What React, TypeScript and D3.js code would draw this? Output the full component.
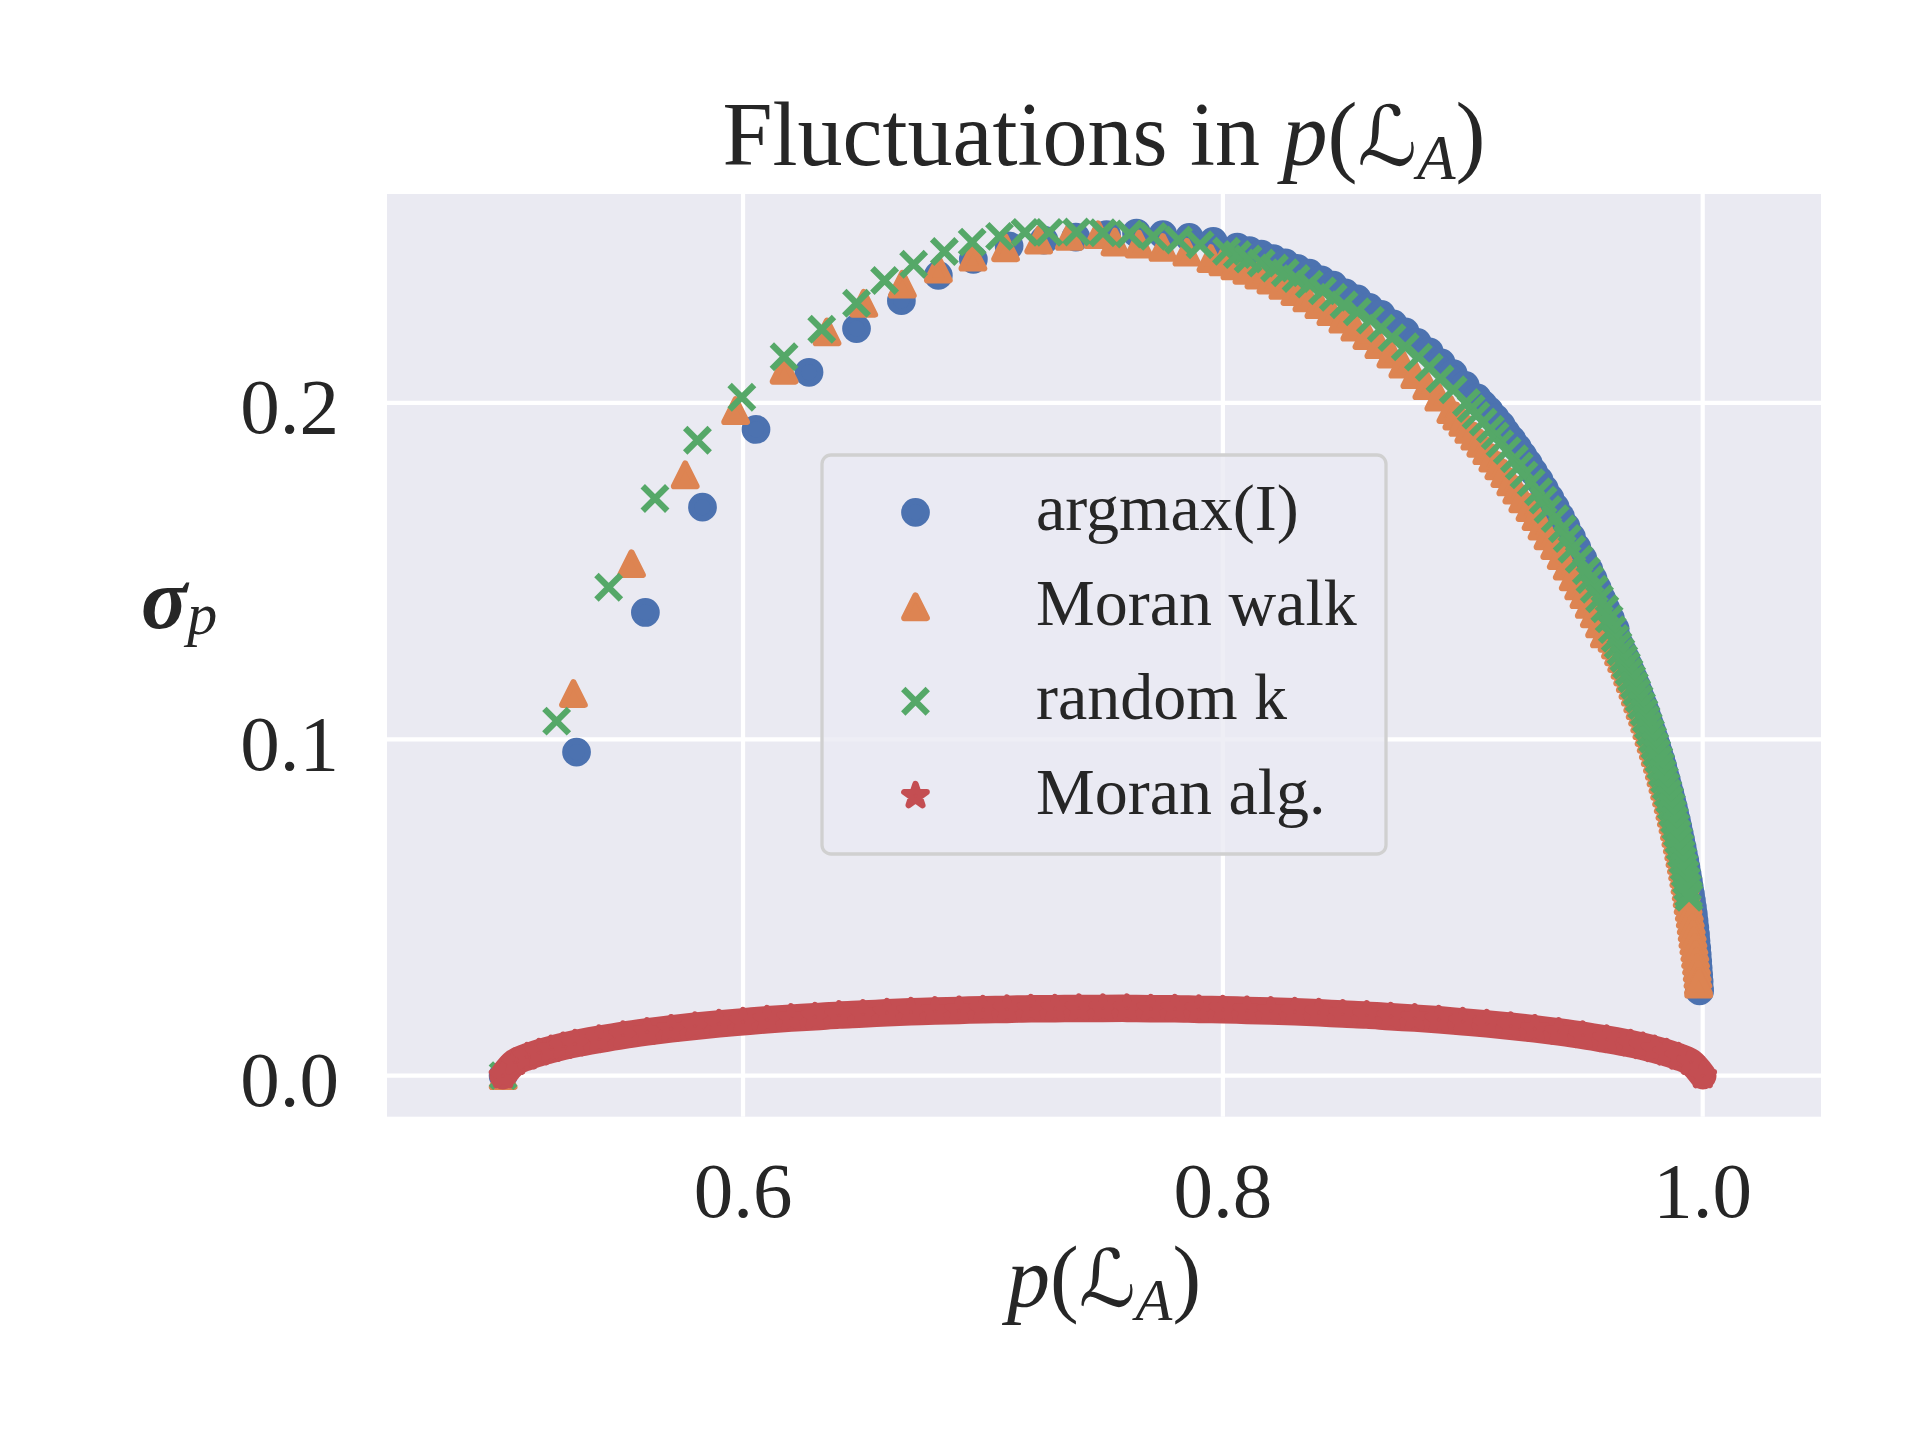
import React, { useRef, useEffect } from 'react';
import * as d3 from 'd3';

type Pt = [number, number];
type D3Svg = d3.Selection<SVGSVGElement, unknown, null, undefined>;

// [p(L_A), sigma_p]
const argmaxI: Pt[] = [
  [0.5, 0], [0.5306, 0.0962], [0.5593, 0.1377], [0.5831, 0.169], [0.6054, 0.1921], [0.6275, 0.2091],
  [0.6473, 0.2221], [0.666, 0.2304], [0.6814, 0.2379], [0.696, 0.2427], [0.7109, 0.2467], [0.7254, 0.2484],
  [0.7387, 0.2493], [0.7515, 0.25], [0.764, 0.2505], [0.775, 0.25], [0.786, 0.2492], [0.796, 0.248],
  [0.806, 0.2463], [0.811, 0.2453], [0.816, 0.2442], [0.821, 0.2429], [0.826, 0.2416], [0.831, 0.24],
  [0.836, 0.2386], [0.841, 0.2366], [0.846, 0.235], [0.851, 0.2327], [0.856, 0.2309], [0.861, 0.2284],
  [0.866, 0.2263], [0.871, 0.2235], [0.876, 0.2211], [0.881, 0.218], [0.886, 0.2152], [0.891, 0.2119],
  [0.896, 0.2087], [0.901, 0.2052], [0.906, 0.2015], [0.9085, 0.1995], [0.911, 0.1976], [0.9135, 0.1955],
  [0.916, 0.1934], [0.918, 0.1912], [0.9205, 0.189], [0.9228, 0.1867], [0.925, 0.1844], [0.9273, 0.182],
  [0.9295, 0.1795], [0.9318, 0.177], [0.934, 0.1744], [0.9363, 0.1717], [0.9385, 0.169], [0.9408, 0.1661],
  [0.943, 0.1632], [0.9453, 0.1601], [0.9475, 0.157], [0.95, 0.1538], [0.9525, 0.1505], [0.9543, 0.1477],
  [0.956, 0.1449], [0.9578, 0.1419], [0.9595, 0.139], [0.9615, 0.1359], [0.9635, 0.1328],
  [0.9643, 0.13], [0.9655, 0.128], [0.9667, 0.126], [0.9679, 0.124], [0.969, 0.122], [0.9701, 0.12],
  [0.9712, 0.118], [0.9723, 0.116], [0.9733, 0.114], [0.9743, 0.112], [0.9753, 0.11], [0.9763, 0.108],
  [0.9772, 0.106], [0.9781, 0.104], [0.979, 0.102], [0.9799, 0.1], [0.9808, 0.098], [0.9816, 0.096],
  [0.9825, 0.094], [0.9833, 0.092], [0.984, 0.09], [0.9848, 0.088], [0.9855, 0.086], [0.9863, 0.084],
  [0.987, 0.082], [0.9877, 0.08], [0.9883, 0.078], [0.989, 0.076], [0.9896, 0.074], [0.9902, 0.072],
  [0.9908, 0.07], [0.9914, 0.068], [0.9919, 0.066], [0.9925, 0.064], [0.993, 0.062], [0.9935, 0.06],
  [0.994, 0.058], [0.9944, 0.056], [0.9949, 0.054], [0.9953, 0.052], [0.9957, 0.05], [0.9961, 0.048],
  [0.9964, 0.046], [0.9967, 0.044], [0.997, 0.042], [0.9972, 0.04], [0.9975, 0.038], [0.9977, 0.036],
  [0.9979, 0.034], [0.9981, 0.032], [0.9983, 0.03], [0.9985, 0.028], [0.9986, 0.026], [0.9987, 0.0252],
];

const moranWalk: Pt[] = [
  [0.5, 0], [0.5293, 0.1136], [0.5535, 0.1522], [0.5759, 0.1786], [0.5969, 0.1977], [0.6171, 0.2097],
  [0.635, 0.2211], [0.6503, 0.2296], [0.6664, 0.2353], [0.6814, 0.2398], [0.6958, 0.2433], [0.7094, 0.2461],
  [0.7232, 0.2484], [0.736, 0.2495], [0.748, 0.25], [0.755, 0.2478], [0.765, 0.2472], [0.775, 0.2462],
  [0.785, 0.2448], [0.795, 0.2429], [0.8, 0.2419], [0.805, 0.2407], [0.81, 0.2394], [0.815, 0.238],
  [0.82, 0.2365], [0.825, 0.2349], [0.83, 0.2331], [0.835, 0.2312], [0.84, 0.2292], [0.845, 0.2271],
  [0.85, 0.2249], [0.855, 0.2225], [0.86, 0.22], [0.865, 0.2173], [0.87, 0.2145], [0.875, 0.2115],
  [0.88, 0.2084], [0.885, 0.2051], [0.89, 0.2017], [0.895, 0.198], [0.8975, 0.1961], [0.9, 0.1942],
  [0.9025, 0.1921], [0.905, 0.1901], [0.9075, 0.188], [0.91, 0.1858], [0.9125, 0.1836], [0.915, 0.1813],
  [0.9175, 0.179], [0.92, 0.1765], [0.9225, 0.1741], [0.925, 0.1715], [0.928, 0.1689], [0.9305, 0.1662],
  [0.933, 0.1634], [0.9355, 0.1605], [0.9383, 0.1576], [0.941, 0.1546], [0.9435, 0.1515], [0.946, 0.1483],
  [0.9483, 0.1456], [0.9505, 0.143], [0.9527, 0.1401], [0.9548, 0.1373], [0.957, 0.1343], [0.959, 0.1313],
  [0.9622, 0.13], [0.9636, 0.128], [0.9649, 0.126], [0.9662, 0.124], [0.9676, 0.122],
  [0.9687, 0.12], [0.9698, 0.118], [0.9709, 0.116], [0.9719, 0.114], [0.9729, 0.112], [0.9739, 0.11],
  [0.9749, 0.108], [0.9758, 0.106], [0.9767, 0.104], [0.9776, 0.102], [0.9785, 0.1], [0.9794, 0.098],
  [0.9802, 0.096], [0.9811, 0.094], [0.9819, 0.092], [0.9826, 0.09], [0.9834, 0.088], [0.9841, 0.086],
  [0.9849, 0.084], [0.9856, 0.082], [0.9863, 0.08], [0.9869, 0.078], [0.9876, 0.076], [0.9882, 0.074],
  [0.9888, 0.072], [0.9894, 0.07], [0.99, 0.068], [0.9905, 0.066], [0.9911, 0.064], [0.9916, 0.062],
  [0.9921, 0.06], [0.9926, 0.058], [0.9931, 0.056], [0.9935, 0.054], [0.9939, 0.052], [0.9944, 0.05],
  [0.9948, 0.048], [0.9952, 0.046], [0.9956, 0.044], [0.9959, 0.042], [0.9963, 0.04], [0.9967, 0.038],
  [0.997, 0.036], [0.9974, 0.034], [0.9977, 0.032], [0.998, 0.03], [0.9982, 0.028], [0.9983, 0.0272],
];

const randomK: Pt[] = [
  [0.5, 0], [0.5223, 0.1054], [0.544, 0.1452], [0.5633, 0.1716], [0.581, 0.1889], [0.5995, 0.2017],
  [0.6171, 0.2137], [0.6328, 0.2219], [0.6473, 0.2296], [0.659, 0.2364], [0.6711, 0.2412], [0.6839, 0.245],
  [0.6955, 0.2478], [0.7069, 0.2495], [0.7175, 0.2507], [0.7275, 0.2507], [0.739, 0.2508], [0.75, 0.2506],
  [0.761, 0.2502], [0.771, 0.2495], [0.7815, 0.2484], [0.7905, 0.247], [0.8015, 0.2451], [0.806, 0.2441],
  [0.8105, 0.2428], [0.816, 0.2416], [0.8215, 0.2401], [0.826, 0.2387], [0.8305, 0.237], [0.836, 0.2353],
  [0.8415, 0.2333], [0.846, 0.2314], [0.8505, 0.2292], [0.856, 0.2271], [0.8615, 0.2246], [0.866, 0.2222],
  [0.8705, 0.2194], [0.876, 0.2167], [0.8815, 0.2136], [0.886, 0.2106], [0.8905, 0.2072], [0.896, 0.2039],
  [0.9015, 0.2001], [0.9035, 0.1983], [0.9055, 0.1963], [0.9085, 0.1943], [0.9115, 0.1922], [0.9135, 0.1902],
  [0.9155, 0.1879], [0.9185, 0.1858], [0.9215, 0.1834], [0.9235, 0.1812], [0.9255, 0.1786], [0.9285, 0.1763],
  [0.9315, 0.1736], [0.9335, 0.1711], [0.9355, 0.1683], [0.9385, 0.1656], [0.9415, 0.1626], [0.9435, 0.1597],
  [0.9455, 0.1565], [0.9485, 0.1535], [0.9515, 0.1501], [0.953, 0.1475], [0.9548, 0.1446], [0.957, 0.1418],
  [0.9592, 0.1388], [0.961, 0.1358], [0.9623, 0.1326], [0.9635, 0.13], [0.9647, 0.128], [0.9659, 0.126],
  [0.9671, 0.124], [0.9682, 0.122], [0.9693, 0.12], [0.9704, 0.118], [0.9715, 0.116], [0.9725, 0.114],
  [0.9735, 0.112], [0.9745, 0.11], [0.9755, 0.108], [0.9764, 0.106], [0.9773, 0.104], [0.9782, 0.102],
  [0.9791, 0.1], [0.98, 0.098], [0.9808, 0.096], [0.9817, 0.094], [0.9825, 0.092], [0.9832, 0.09],
  [0.984, 0.088], [0.9847, 0.086], [0.9855, 0.084], [0.9862, 0.082], [0.9869, 0.08], [0.9875, 0.078],
  [0.9882, 0.076], [0.9888, 0.074], [0.9894, 0.072], [0.99, 0.07], [0.9906, 0.068], [0.9911, 0.066],
  [0.9917, 0.064], [0.9922, 0.062], [0.9927, 0.06], [0.9932, 0.058], [0.9937, 0.056], [0.9941, 0.054],
  [0.9943, 0.053],
];

const moranAlg: Pt[] = [
  [0.5, 0], [0.505, 0.004], [0.51, 0.0056], [0.515, 0.0068], [0.52, 0.0078], [0.525, 0.0087], [0.53, 0.0095],
  [0.54, 0.0108], [0.55, 0.012], [0.56, 0.013], [0.57, 0.0139], [0.58, 0.0147], [0.59, 0.0154], [0.6, 0.016],
  [0.61, 0.0166], [0.62, 0.0171], [0.63, 0.0175], [0.64, 0.018], [0.65, 0.0183], [0.66, 0.0187], [0.67, 0.019],
  [0.68, 0.0192], [0.69, 0.0194], [0.7, 0.0196], [0.71, 0.0197], [0.72, 0.0199], [0.73, 0.0199], [0.74, 0.02],
  [0.75, 0.02], [0.76, 0.02], [0.77, 0.0199], [0.78, 0.0199], [0.79, 0.0197], [0.8, 0.0196], [0.81, 0.0194],
  [0.82, 0.0192], [0.83, 0.019], [0.84, 0.0187], [0.85, 0.0183], [0.86, 0.018], [0.87, 0.0175], [0.88, 0.0171],
  [0.89, 0.0166], [0.9, 0.016], [0.91, 0.0154], [0.92, 0.0147], [0.93, 0.0139], [0.94, 0.013], [0.95, 0.012],
  [0.96, 0.0108], [0.97, 0.0095], [0.975, 0.0087], [0.98, 0.0078], [0.985, 0.0068], [0.99, 0.0056],
  [0.995, 0.004], [1.0, 0],
];

const seriesNames = ['argmax(I)', 'Moran walk', 'random k', 'Moran alg.'];
const seriesMarkers = ['circle', 'triangle', 'cross', 'star'];
const seriesColors = ['#4C72B0', '#DD8452', '#55A868', '#C44E52'];
const xTicks = [0.6, 0.8, 1.0];
const yTicks = [0.0, 0.1, 0.2];

const FONT = '"Liberation Serif", "Times New Roman", serif';
const TEXT = '#262626';
const MS = 22.5; // marker path size
const MLW = 6.25; // marker edge width

function markerPath(kind: string, s: number): string {
  const h = s / 2;
  if (kind === 'circle') return d3.symbol(d3.symbolCircle, Math.PI * h * h)() as string;
  if (kind === 'triangle') return `M0,${-h}L${h},${h}L${-h},${h}Z`;
  if (kind === 'cross') {
    const a = h + 1;
    return `M${-a},${-a}L${a},${a}M${-a},${a}L${a},${-a}`;
  }
  // 5 pointed star
  const pts = d3.range(10).map((i) => {
    const r = i % 2 === 0 ? h * 1.05 : h * 1.05 * 0.381966;
    const ang = -Math.PI / 2 + (i * Math.PI) / 5;
    return [r * Math.cos(ang), r * Math.sin(ang)];
  });
  return 'M' + pts.map((p) => `${p[0].toFixed(2)},${p[1].toFixed(2)}`).join('L') + 'Z';
}

function styleMarker(sel: any, kind: string, color: string) {
  if (kind === 'cross') {
    sel.attr('fill', 'none').attr('stroke', color).attr('stroke-width', MLW);
  } else {
    sel
      .attr('fill', color)
      .attr('stroke', color)
      .attr('stroke-width', MLW)
      .attr('stroke-linejoin', 'round');
  }
}

// p(L_A) as mixed text
function appendMath(text: any, fs: number) {
  text.append('tspan').attr('font-style', 'italic').text('p');
  text.append('tspan').text('(');
  text.append('tspan')
    .attr('font-family', '"DejaVu Serif", "DejaVu Sans", serif')
    .attr('font-style', 'italic')
    .attr('font-size', fs * 0.92)
    .text('\u2112');
  text.append('tspan')
    .attr('font-style', 'italic')
    .attr('font-size', fs * 0.7)
    .attr('dy', fs * 0.16)
    .text('A');
  text.append('tspan').attr('dy', -fs * 0.16).text(')');
}

function drawChart(svg: D3Svg) {
  svg.selectAll('*').remove();

  const width = 1920;
  const height = 1440;
  const plot = { left: 387, right: 1821, top: 194, bottom: 1116.7 };

  const x = d3.scaleLinear().domain([0.4516, 1.0493]).range([plot.left, plot.right]);
  const y = d3.scaleLinear().domain([-0.0122, 0.2621]).range([plot.bottom, plot.top]);

  svg.append('rect').attr('width', width).attr('height', height).attr('fill', '#ffffff');

  // axes background + grid
  svg.append('rect')
    .attr('x', plot.left)
    .attr('y', plot.top)
    .attr('width', plot.right - plot.left)
    .attr('height', plot.bottom - plot.top)
    .attr('fill', '#EAEAF2');

  svg.append('g')
    .selectAll('line')
    .data(xTicks)
    .join('line')
    .attr('x1', (d) => x(d))
    .attr('x2', (d) => x(d))
    .attr('y1', plot.top)
    .attr('y2', plot.bottom)
    .attr('stroke', '#ffffff')
    .attr('stroke-width', 4.2);

  svg.append('g')
    .selectAll('line')
    .data(yTicks)
    .join('line')
    .attr('x1', plot.left)
    .attr('x2', plot.right)
    .attr('y1', (d) => y(d))
    .attr('y2', (d) => y(d))
    .attr('stroke', '#ffffff')
    .attr('stroke-width', 4.2);

  // tick labels
  svg.append('g')
    .selectAll('text')
    .data(xTicks)
    .join('text')
    .attr('x', (d) => x(d))
    .attr('y', 1216.7)
    .attr('text-anchor', 'middle')
    .attr('font-family', FONT)
    .attr('font-size', 79)
    .attr('fill', TEXT)
    .text((d) => d3.format('.1f')(d));

  svg.append('g')
    .selectAll('text')
    .data(yTicks)
    .join('text')
    .attr('x', 339)
    .attr('y', (d) => y(d) + 30.4)
    .attr('text-anchor', 'end')
    .attr('font-family', FONT)
    .attr('font-size', 79)
    .attr('fill', TEXT)
    .text((d) => d3.format('.1f')(d));

  // scatter series
  const plotArea = svg.append('g');
  const allSeries = [argmaxI, moranWalk, randomK, moranAlg];

  allSeries.forEach((data, i) => {
    const g = plotArea.append('g');
    if (i === 3) {
      // dense stars merge into a solid band
      const band = d3.line<Pt>()
        .x((d) => x(d[0]))
        .y((d) => y(d[1]))
        .curve(d3.curveCatmullRom);
      g.append('path')
        .attr('d', band(data) as string)
        .attr('fill', 'none')
        .attr('stroke', seriesColors[i])
        .attr('stroke-width', 27.5)
        .attr('stroke-linecap', 'round')
        .attr('stroke-linejoin', 'round');
    }
    const marks = g.selectAll('path.mark')
      .data(data)
      .join('path')
      .attr('class', 'mark')
      .attr('d', markerPath(seriesMarkers[i], MS))
      .attr('transform', (d) => `translate(${x(d[0])},${y(d[1])})`);
    styleMarker(marks, seriesMarkers[i], seriesColors[i]);
  });

  // legend
  const lg = svg.append('g');
  lg.append('rect')
    .attr('x', 822)
    .attr('y', 455)
    .attr('width', 564)
    .attr('height', 399)
    .attr('rx', 9)
    .attr('fill', 'rgba(234,234,242,0.8)')
    .attr('stroke', '#d0d0d0')
    .attr('stroke-width', 3.3);

  const rowY = d3.scaleLinear().domain([0, 3]).range([512.3, 795.7]);
  seriesNames.forEach((name, i) => {
    const m = lg.append('path')
      .attr('d', markerPath(seriesMarkers[i], MS))
      .attr('transform', `translate(915.5,${rowY(i)})`);
    styleMarker(m, seriesMarkers[i], seriesColors[i]);
    lg.append('text')
      .attr('x', 1036)
      .attr('y', rowY(i) + 18)
      .attr('font-family', FONT)
      .attr('font-size', 66)
      .attr('fill', TEXT)
      .text(name);
  });

  // title
  const title = svg.append('text')
    .attr('x', (plot.left + plot.right) / 2)
    .attr('y', 165)
    .attr('text-anchor', 'middle')
    .attr('font-family', FONT)
    .attr('font-size', 90)
    .attr('fill', TEXT);
  title.append('tspan').text('Fluctuations in ');
  appendMath(title, 90);

  // x label
  const xl = svg.append('text')
    .attr('x', (plot.left + plot.right) / 2)
    .attr('y', 1306)
    .attr('text-anchor', 'middle')
    .attr('font-family', FONT)
    .attr('font-size', 86)
    .attr('fill', TEXT);
  appendMath(xl, 86);

  // y label
  const yl = svg.append('text')
    .attr('x', 141)
    .attr('y', 628)
    .attr('font-family', FONT)
    .attr('font-size', 86)
    .attr('fill', TEXT);
  yl.append('tspan').attr('font-style', 'italic').attr('font-weight', 'bold').text('\u03c3');
  yl.append('tspan')
    .attr('font-style', 'italic')
    .attr('font-size', 60)
    .attr('dy', 6)
    .text('p');

  return svg.node();
}

export default function App() {
  const d3Container = useRef<SVGSVGElement>(null);

  useEffect(() => {
    if (d3Container.current) {
      drawChart(d3.select(d3Container.current));
    }
  }, []);

  return (
    <svg
      ref={d3Container}
      width={1920}
      height={1440}
      style={{ position: 'absolute', left: 0, top: 0, display: 'block' }}
    />
  );
}
